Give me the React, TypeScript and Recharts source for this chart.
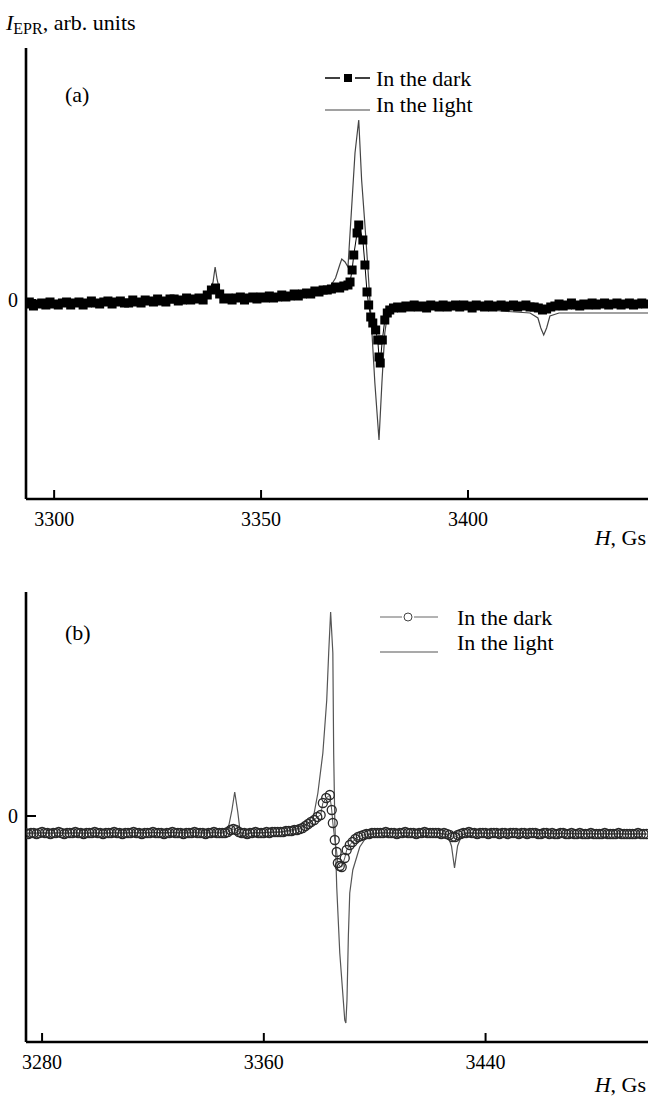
import React from 'react';
import { LineChart, Line, XAxis, YAxis } from 'recharts';

const FONT = '"Liberation Serif", "Times New Roman", serif';

// (a) field, Gs
const darkAField = [
  3293, 3294, 3295, 3296, 3297, 3298, 3299, 3300, 3301, 3302,
  3303, 3304, 3305, 3306, 3307, 3308, 3309, 3310, 3311, 3312,
  3313, 3314, 3315, 3316, 3317, 3318, 3319, 3320, 3321, 3322,
  3323, 3324, 3325, 3326, 3327, 3328, 3329, 3330, 3331, 3332,
  3333, 3334, 3335, 3336, 3337, 3338, 3339, 3340, 3341, 3342,
  3343, 3344, 3345, 3346, 3347, 3348, 3349, 3350, 3351, 3352,
  3353, 3354, 3355, 3356, 3357, 3358, 3359, 3360, 3361, 3362,
  3363, 3364, 3365, 3366, 3367, 3368, 3369, 3370, 3371, 3371.5,
  3372, 3372.4, 3373.2, 3373.6, 3374.6, 3375.1, 3375.6, 3376, 3376.5, 3377,
  3377.7, 3378.2, 3378.5, 3378.8, 3379.3, 3379.9, 3380.5, 3381.1, 3382, 3383,
  3384, 3385, 3386, 3387, 3388, 3389, 3390, 3391, 3392, 3393,
  3394, 3395, 3396, 3397, 3398, 3399, 3400, 3401, 3402, 3403,
  3404, 3405, 3406, 3407, 3408, 3409, 3410, 3411, 3412, 3413,
  3414, 3415, 3416, 3417, 3418, 3419, 3420, 3421, 3422, 3423,
  3424, 3425, 3426, 3427, 3428, 3429, 3430, 3431, 3432, 3433,
  3434, 3435, 3436, 3437, 3438, 3439, 3440, 3441, 3442, 3443,
];
const darkAValue = [
  -0.4, -0.2, -0.6, -0.4, -0.3, -0.5, -0.2, -0.4, -0.5, -0.3,
  -0.2, -0.5, -0.3, -0.2, -0.5, -0.3, -0.1, -0.3, -0.4, -0.2,
  -0.1, -0.4, -0.2, -0.1, -0.3, -0.3, 0.0, -0.2, -0.3, 0.0,
  -0.1, -0.2, 0.1, -0.1, -0.2, 0.1, 0.1, -0.1, 0.0, 0.2,
  0.0, 0.1, 0.2, 0.0, 0.5, 1.0, 1.2, 0.6, 0.1, 0.2,
  0.0, 0.2, 0.3, 0.0, 0.2, 0.3, 0.1, 0.3, 0.2, 0.4,
  0.2, 0.3, 0.5, 0.3, 0.4, 0.6, 0.4, 0.6, 0.7, 0.6,
  0.9, 0.8, 1.0, 1.0, 1.1, 1.3, 1.2, 1.4, 1.5, 1.8,
  3.0, 4.5, 6.7, 7.5, 6.0, 3.5, 0.8, -0.5, -1.7, -2.3,
  -3.0, -4.0, -5.7, -6.3, -4.0, -2.0, -1.3, -1.0, -0.8, -0.7,
  -0.8, -0.6, -0.7, -0.5, -0.7, -0.6, -0.8, -0.5, -0.6, -0.7,
  -0.5, -0.7, -0.6, -0.5, -0.7, -0.5, -0.6, -0.8, -0.5, -0.6,
  -0.7, -0.5, -0.7, -0.6, -0.5, -0.7, -0.6, -0.5, -0.7, -0.6,
  -0.5, -0.7, -0.7, -0.8, -1.0, -0.9, -0.7, -0.6, -0.4, -0.6,
  -0.5, -0.3, -0.5, -0.6, -0.4, -0.5, -0.3, -0.5, -0.4, -0.3,
  -0.5, -0.4, -0.3, -0.5, -0.4, -0.3, -0.5, -0.4, -0.3, -0.4,
];
const lightAField = [
  3293, 3310, 3330, 3336, 3337.5, 3338.4, 3338.9, 3339.4, 3340.1, 3341.3,
  3350, 3359, 3364, 3366.5, 3368, 3369, 3369.5, 3370.3, 3371, 3372,
  3372.7, 3373.6, 3374.3, 3375.1, 3375.8, 3376.8, 3377.5, 3378.5, 3379.2, 3379.9,
  3380.6, 3382.3, 3388, 3398, 3408, 3415, 3416.9, 3417.6, 3418.3, 3419,
  3419.8, 3422, 3432, 3443.5,
];
const lightAValue = [
  -0.2, -0.1, 0.1, 0.2, 0.7, 1.8, 3.3, 2.0, 0.8, 0.3,
  0.3, 0.4, 0.7, 1.2, 2.2, 3.5, 4.1, 3.8, 3.3, 10.0,
  14.7, 18.0, 12.0, 7.5, 3.3, -3.3, -8.3, -14.0, -8.3, -3.3,
  -1.3, -0.8, -0.6, -0.8, -1.1, -1.3, -1.8, -2.8, -3.5, -2.8,
  -1.6, -1.3, -1.3, -1.3,
];

// (b) field, Gs
const darkBField = [
  3274, 3275, 3276, 3277, 3278, 3279, 3280, 3281, 3282, 3283,
  3284, 3285, 3286, 3287, 3288, 3289, 3290, 3291, 3292, 3293,
  3294, 3295, 3296, 3297, 3298, 3299, 3300, 3301, 3302, 3303,
  3304, 3305, 3306, 3307, 3308, 3309, 3310, 3311, 3312, 3313,
  3314, 3315, 3316, 3317, 3318, 3319, 3320, 3321, 3322, 3323,
  3324, 3325, 3326, 3327, 3328, 3329, 3330, 3331, 3332, 3333,
  3334, 3335, 3336, 3337, 3338, 3339, 3340, 3341, 3342, 3343,
  3344, 3345, 3346, 3347, 3348, 3349, 3350, 3351, 3352, 3353,
  3354, 3355, 3356, 3357, 3358, 3359, 3360, 3361, 3362, 3363,
  3364, 3365, 3366, 3367, 3368, 3369, 3370, 3371, 3372, 3373,
  3374, 3375, 3376, 3377, 3378.2, 3379.3, 3380.5, 3381.3, 3382.5, 3383.8,
  3384.5, 3384.9, 3385.6, 3386.3, 3386.7, 3387.4, 3388.1, 3389.2, 3389.9, 3391,
  3392, 3393, 3394, 3395, 3396, 3397, 3398, 3399, 3400, 3401,
  3402, 3403, 3404, 3405, 3406, 3407, 3408, 3409, 3410, 3411,
  3412, 3413, 3414, 3415, 3416, 3417, 3418, 3419, 3420, 3421,
  3422, 3423, 3424, 3425, 3426, 3427, 3428, 3429, 3430, 3431,
  3432, 3433, 3434, 3435, 3436, 3437, 3438, 3439, 3440, 3441,
  3442, 3443, 3444, 3445, 3446, 3447, 3448, 3449, 3450, 3451,
  3452, 3453, 3454, 3455, 3456, 3457, 3458, 3459, 3460, 3461,
  3462, 3463, 3464, 3465, 3466, 3467, 3468, 3469, 3470, 3471,
  3472, 3473, 3474, 3475, 3476, 3477, 3478, 3479, 3480, 3481,
  3482, 3483, 3484, 3485, 3486, 3487, 3488, 3489, 3490, 3491,
  3492, 3493, 3494, 3495, 3496, 3497, 3498,
];
const darkBValue = [
  -1.7, -1.8, -1.7, -1.7, -1.8, -1.7, -1.6, -1.7, -1.7, -1.8,
  -1.7, -1.7, -1.6, -1.7, -1.8, -1.7, -1.7, -1.7, -1.6, -1.7,
  -1.7, -1.8, -1.7, -1.7, -1.7, -1.6, -1.7, -1.7, -1.8, -1.7,
  -1.7, -1.7, -1.6, -1.7, -1.7, -1.8, -1.7, -1.7, -1.7, -1.6,
  -1.7, -1.7, -1.8, -1.7, -1.7, -1.7, -1.6, -1.7, -1.7, -1.7,
  -1.8, -1.7, -1.7, -1.6, -1.7, -1.7, -1.7, -1.8, -1.7, -1.7,
  -1.7, -1.6, -1.7, -1.7, -1.7, -1.8, -1.7, -1.7, -1.6, -1.7,
  -1.7, -1.7, -1.7, -1.6, -1.4, -1.3, -1.4, -1.6, -1.7, -1.7,
  -1.8, -1.7, -1.7, -1.6, -1.7, -1.7, -1.7, -1.6, -1.7, -1.6,
  -1.6, -1.6, -1.6, -1.6, -1.5, -1.5, -1.5, -1.4, -1.4, -1.3,
  -1.2, -1.0, -0.8, -0.6, -0.4, -0.1, 0.1, 1.3, 1.8, 2.1,
  0.6, -0.7, -2.4, -3.6, -4.7, -5.0, -5.1, -4.2, -3.4, -2.9,
  -2.6, -2.3, -2.1, -2.0, -1.9, -1.8, -1.8, -1.7, -1.7, -1.7,
  -1.7, -1.7, -1.6, -1.7, -1.7, -1.7, -1.8, -1.7, -1.7, -1.6,
  -1.7, -1.7, -1.7, -1.8, -1.7, -1.7, -1.6, -1.7, -1.7, -1.7,
  -1.7, -1.7, -1.8, -1.7, -1.8, -1.9, -2.1, -2.1, -1.9, -1.8,
  -1.7, -1.7, -1.6, -1.7, -1.7, -1.8, -1.7, -1.7, -1.7, -1.8,
  -1.7, -1.7, -1.7, -1.8, -1.7, -1.7, -1.8, -1.7, -1.7, -1.7,
  -1.8, -1.7, -1.7, -1.8, -1.7, -1.7, -1.7, -1.8, -1.8, -1.7,
  -1.7, -1.8, -1.7, -1.8, -1.8, -1.7, -1.7, -1.8, -1.8, -1.7,
  -1.8, -1.8, -1.7, -1.8, -1.8, -1.8, -1.7, -1.8, -1.8, -1.8,
  -1.8, -1.7, -1.8, -1.8, -1.8, -1.8, -1.7, -1.8, -1.8, -1.8,
  -1.8, -1.8, -1.8, -1.7, -1.8, -1.8, -1.8,
];
const lightBField = [
  3274, 3300, 3345, 3346.5, 3347.4, 3348.5, 3349.5, 3350.6, 3351.4, 3352.4,
  3355, 3366, 3373, 3375.5, 3377.7, 3379.5, 3381.3, 3382.7, 3383.4, 3384.1,
  3384.9, 3385.2, 3385.6, 3386.3, 3387.4, 3389.2, 3389.6, 3390, 3390.5, 3391,
  3392.1, 3394.6, 3397.5, 3402, 3423, 3426.3, 3427.7, 3428.8, 3429.9, 3431.4,
  3434, 3498.5,
];
const lightBValue = [
  -1.7, -1.7, -1.6, -1.5, -0.9, 0.6, 2.4, 0.4, -1.4, -2.0,
  -1.7, -1.6, -1.2, -0.8, -0.4, 2.3, 6.3, 11.6, 16.3, 20.4,
  16.3, 6.3, -0.4, -7.1, -13.7, -20.4, -20.7, -18.4, -12.0, -7.7,
  -5.4, -3.1, -1.9, -1.7, -1.7, -1.9, -3.0, -5.2, -3.0, -1.9,
  -1.7, -1.8,
];

const ticksA = [3300, 3350, 3400];
const ticksB = [3280, 3360, 3440];
const zeroTick = [0];

const toRows = (field: number[], value: number[]) => field.map((h, i) => ({ h, v: value[i] }));

const darkA = toRows(darkAField, darkAValue);
const lightA = toRows(lightAField, lightAValue);
const darkB = toRows(darkBField, darkBValue);
const lightB = toRows(lightBField, lightBValue);

const serif = { fontFamily: FONT };

function XTick(props: any) {
  const { x, y, payload } = props;
  return (
    <g>
      <line x1={x} x2={x} y1={y} y2={y - 9} stroke="#000" strokeWidth={2} />
      <text x={x} y={y + 27} textAnchor="middle" fontSize={20} style={serif} fill="#000">
        {payload.value}
      </text>
    </g>
  );
}

function YTick(props: any) {
  const { x, y, payload } = props;
  return (
    <g>
      <line x1={x} x2={x + 10} y1={y} y2={y} stroke="#000" strokeWidth={2} />
      <text x={x - 8} y={y + 7} textAnchor="end" fontSize={20} style={serif} fill="#000">
        {payload.value}
      </text>
    </g>
  );
}

const squareDot = (p: any) => (
  <rect key={`sq-${p.index}`} x={p.cx - 4.5} y={p.cy - 4.5} width={9} height={9} fill="#000" />
);

const axisLine = { stroke: '#000', strokeWidth: 2.6 };

export default function App() {
  return (
    <div style={{ position: 'absolute', left: 0, top: 0, width: 648, height: 1102, background: '#fff' }}>
      <div style={{ position: 'absolute', left: 0, top: 0 }}>
        <LineChart width={648} height={560} margin={{ top: 48, right: 0, bottom: 31, left: 0 }}>
          <XAxis
            dataKey="h"
            type="number"
            domain={[3293.2, 3443.5]}
            ticks={ticksA}
            interval={0}
            allowDataOverflow
            height={30}
            tickSize={0}
            tickMargin={0}
            tickLine={false}
            tick={<XTick />}
            axisLine={axisLine}
          />
          <YAxis
            type="number"
            domain={[-19.9, 25.2]}
            ticks={zeroTick}
            interval={0}
            allowDataOverflow
            width={26}
            tickSize={0}
            tickMargin={0}
            tickLine={false}
            tick={<YTick />}
            axisLine={axisLine}
          />
          <Line data={lightA} dataKey="v" type="linear" stroke="#444" strokeWidth={1.2} dot={false} isAnimationActive={false} />
          <Line data={darkA} dataKey="v" type="linear" stroke="#000" strokeWidth={1} dot={squareDot} isAnimationActive={false} />
        </LineChart>
      </div>
      <div style={{ position: 'absolute', left: 0, top: 560 }}>
        <LineChart width={648} height={542} margin={{ top: 32, right: 0, bottom: 30, left: 0 }}>
          <XAxis
            dataKey="h"
            type="number"
            domain={[3274.2, 3498.6]}
            ticks={ticksB}
            interval={0}
            allowDataOverflow
            height={30}
            tickSize={0}
            tickMargin={0}
            tickLine={false}
            tick={<XTick />}
            axisLine={axisLine}
          />
          <YAxis
            type="number"
            domain={[-22.6, 22.4]}
            ticks={zeroTick}
            interval={0}
            allowDataOverflow
            width={26}
            tickSize={0}
            tickMargin={0}
            tickLine={false}
            tick={<YTick />}
            axisLine={axisLine}
          />
          <Line data={lightB} dataKey="v" type="linear" stroke="#555" strokeWidth={1.2} dot={false} isAnimationActive={false} />
          <Line
            data={darkB}
            dataKey="v"
            type="linear"
            stroke="#555"
            strokeWidth={1}
            dot={{ r: 4.5, fill: 'none', stroke: '#2a2a2a', strokeWidth: 1.3 }}
            isAnimationActive={false}
          />
        </LineChart>
      </div>
      <svg width={648} height={1102} style={{ position: 'absolute', left: 0, top: 0, pointerEvents: 'none' }}>
        <text x={6} y={30} fontSize={22} style={serif} fill="#000">
          <tspan fontStyle="italic">I</tspan>
          <tspan fontSize={16} dy={4}>EPR</tspan>
          <tspan dy={-4}>, arb. units</tspan>
        </text>
        <text x={65} y={102} fontSize={22} style={serif} fill="#000">(a)</text>
        <text x={65} y={640} fontSize={22} style={serif} fill="#000">(b)</text>
        <text x={646} y={545} fontSize={22} textAnchor="end" style={serif} fill="#000">
          <tspan fontStyle="italic">H</tspan>, Gs
        </text>
        <text x={646} y={1092} fontSize={22} textAnchor="end" style={serif} fill="#000">
          <tspan fontStyle="italic">H</tspan>, Gs
        </text>

        <line x1={325} x2={340} y1={78} y2={78} stroke="#000" strokeWidth={1.5} />
        <line x1={355} x2={370} y1={78} y2={78} stroke="#000" strokeWidth={1.5} />
        <rect x={344} y={74} width={8} height={8} fill="#000" />
        <text x={376} y={86} fontSize={22} style={serif} fill="#000">In the dark</text>
        <line x1={325} x2={370} y1={110} y2={110} stroke="#444" strokeWidth={1.2} />
        <text x={376} y={112} fontSize={22} style={serif} fill="#000">In the light</text>

        <line x1={380} x2={402} y1={617} y2={617} stroke="#666" strokeWidth={1} />
        <line x1={414} x2={438} y1={617} y2={617} stroke="#666" strokeWidth={1} />
        <circle cx={408} cy={617} r={4} fill="#fff" stroke="#444" strokeWidth={1} />
        <text x={457} y={625} fontSize={22} style={serif} fill="#000">In the dark</text>
        <line x1={380} x2={438} y1={652} y2={652} stroke="#555" strokeWidth={1.2} />
        <text x={457} y={650} fontSize={22} style={serif} fill="#000">In the light</text>
      </svg>
    </div>
  );
}
